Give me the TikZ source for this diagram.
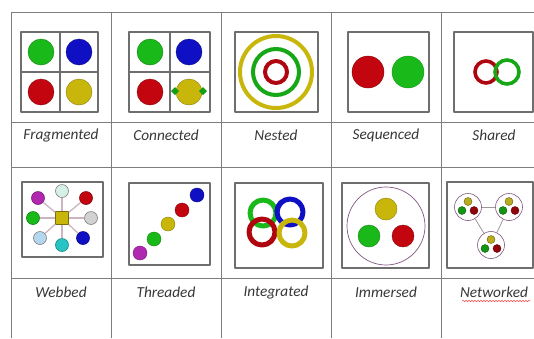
\documentclass[tikz,border=0pt]{standalone}
\usepackage{fontspec}
\setmainfont{Carlito}
\usetikzlibrary{decorations.pathmorphing}
\definecolor{cgreen}{RGB}{25,185,25}
\definecolor{cblue}{RGB}{15,15,195}
\definecolor{cred}{RGB}{195,5,15}
\definecolor{cyellow}{RGB}{200,182,10}
\definecolor{cmag}{RGB}{175,40,175}
\definecolor{cteal}{RGB}{40,195,195}
\definecolor{clblue}{RGB}{180,215,240}
\definecolor{clgray}{RGB}{210,210,210}
\definecolor{clcyan}{RGB}{215,240,230}
\definecolor{gridc}{RGB}{125,125,125}
\definecolor{boxc}{RGB}{110,110,110}
\definecolor{txtc}{RGB}{55,55,55}
\definecolor{spokec}{RGB}{205,180,195}
\tikzset{
  gridline/.style={draw=gridc, line width=0.9pt},
  boxline/.style={draw=boxc, line width=1.2pt},
  dot/.style={circle, inner sep=0pt, minimum size=#1, line width=0.6pt},
  lab/.style={font=\fontsize{15.3}{17}\selectfont\itshape, text=txtc, inner sep=0pt},
  spoke/.style={draw=spokec, line width=1.3pt},
  link/.style={draw=gray!80, line width=0.8pt},
}
\begin{document}
\begin{tikzpicture}[x=1pt,y=-1pt, line join=round]
\useasboundingbox (0,0) rectangle (534,338);
\fill[white] (0,0) rectangle (534,338);
% table grid
\foreach \yy in {12,122,167,278} \draw[gridline] (11,\yy) -- (534,\yy);
\foreach \xx in {11,111,221,331,441} \draw[gridline] (\xx,12) -- (\xx,338);

% ---------- Fragmented ----------
\draw[boxline] (21,32) rectangle (98,112);
\draw[boxline] (60,32) -- (60,112) (21,72) -- (98,72);
\filldraw[fill=cgreen, draw=cgreen!70!black] (41,52) circle (13);
\filldraw[fill=cblue, draw=cblue!70!black] (79,52) circle (13);
\filldraw[fill=cred, draw=cred!70!black] (41,92) circle (13);
\filldraw[fill=cyellow, draw=cyellow!70!black] (79,92) circle (13);

% ---------- Connected ----------
\draw[boxline] (129,32) rectangle (210,112);
\draw[boxline] (170,32) -- (170,112) (129,72) -- (210,72);
\filldraw[fill=cgreen, draw=cgreen!70!black] (150,52) circle (13);
\filldraw[fill=cblue, draw=cblue!70!black] (189,52) circle (13);
\filldraw[fill=cred, draw=cred!70!black] (150,92) circle (13);
\filldraw[fill=cyellow, draw=cyellow!70!black] (189,92) circle (13);
\fill[cgreen!85!black] (171,91) -- (175,87) -- (179,91) -- (175,95) -- cycle;
\fill[cgreen!85!black] (199,91) -- (203,87) -- (207,91) -- (203,95) -- cycle;

% ---------- Nested ----------
\draw[boxline] (235,32) rectangle (318,112);
\draw[cyellow, line width=4pt] (276,72) circle (36);
\draw[cgreen!90!black, line width=4pt] (276,72) circle (23);
\draw[cred!90!black, line width=4pt] (276,72) circle (11);

% ---------- Sequenced ----------
\draw[boxline] (348,32) rectangle (429,112);
\filldraw[fill=cred, draw=cred!70!black] (368,72) circle (16);
\filldraw[fill=cgreen, draw=cgreen!80!black] (408,72) circle (16);

% ---------- Shared ----------
\draw[boxline] (454,32) rectangle (533,112);
\draw[cred!90!black, line width=3.6pt] (486,72) circle (11);
\draw[cgreen!90!black, line width=3.6pt] (507,72) circle (12);

% ---------- Webbed ----------
\draw[boxline] (22,182) rectangle (103,257);
\node[draw=cyellow!60!black, fill=cyellow, minimum size=13pt, inner sep=0pt] (wc) at (62,218) {};
\node[dot=13pt, fill=cmag, draw=cmag!70!black] (w1) at (38,198) {};
\node[dot=13pt, fill=clcyan, draw=gray] (w2) at (62,191) {};
\node[dot=13pt, fill=cred, draw=cred!70!black] (w3) at (86,198) {};
\node[dot=13pt, fill=clgray, draw=gray] (w4) at (91,218) {};
\node[dot=13pt, fill=cblue, draw=cblue!70!black] (w5) at (83,238) {};
\node[dot=13pt, fill=cteal, draw=cteal!70!black] (w6) at (62,245) {};
\node[dot=13pt, fill=clblue, draw=gray] (w7) at (40,238) {};
\node[dot=13pt, fill=cgreen, draw=cgreen!70!black] (w8) at (33,218) {};
\foreach \i in {1,...,8} \draw[spoke] (wc) -- (w\i);

% ---------- Threaded ----------
\draw[boxline] (129,183) rectangle (210,265);
\filldraw[fill=cmag, draw=cmag!70!black] (140,253) circle (7);
\filldraw[fill=cgreen, draw=cgreen!70!black] (154,239) circle (7);
\filldraw[fill=cyellow, draw=cyellow!70!black] (168,224) circle (7);
\filldraw[fill=cred, draw=cred!70!black] (182,210) circle (7);
\filldraw[fill=cblue, draw=cblue!70!black] (197,195) circle (7);

% ---------- Integrated ----------
\draw[boxline] (235,183) rectangle (323,268);
\draw[cgreen, line width=5pt] (263,213) circle (13);
\draw[cblue, line width=5pt] (290,212) circle (13);
\draw[cred!90!black, line width=5pt] (262,232) circle (13);
\draw[cyellow, line width=5pt] (292,233) circle (13);
\draw[cblue, line width=5pt] (277,212) arc (180:235:13);

% ---------- Immersed ----------
\draw[boxline] (342,183) rectangle (429,268);
\draw[draw=gray!70!violet, line width=0.7pt] (386,226) circle (39);
\filldraw[fill=cyellow, draw=cyellow!70!black] (386,209) circle (11);
\filldraw[fill=cgreen, draw=cgreen!70!black] (369,236) circle (11);
\filldraw[fill=cred, draw=cred!70!black] (403,236) circle (11);

% ---------- Networked ----------
\draw[boxline] (447,182) rectangle (533,268);
\node[dot=27pt, draw=gray!70!violet, fill=white] (n1) at (468,207) {};
\node[dot=27pt, draw=gray!70!violet, fill=white] (n2) at (509,207) {};
\node[dot=27pt, draw=gray!70!violet, fill=white] (n3) at (491,245) {};
\draw[link] (n1) -- (n2);
\draw[link] (n1) -- (n3);
\draw[link] (n2) -- (n3);
\foreach \n/\cx/\cy in {n1/468/207, n2/509/207, n3/491/245}{
  \filldraw[fill=cyellow!80!gray, draw=cyellow!50!black, line width=0.4pt] (\cx,\cy-5.5) circle (4);
  \filldraw[fill=cgreen!80!black, draw=cgreen!50!black, line width=0.4pt] (\cx-6,\cy+3.5) circle (4);
  \filldraw[fill=cred!75!black, draw=cred!50!black, line width=0.4pt] (\cx+6,\cy+3.5) circle (4);
}

% ---------- Labels ----------
\node[lab] (l1) at (61,135) {Fragmented};
\node[lab] (l2) at (166,135) {Connected};
\node[lab] (l3) at (276,135) {Nested};
\node[lab] (l4) at (386,135) {Sequenced};
\node[lab] (l5) at (494,135) {Shared};
\node[lab] (l6) at (61,292) {Webbed};
\node[lab] (l7) at (166,292) {Threaded};
\node[lab] (l8) at (276,292) {Integrated};
\node[lab] (l9) at (386,292) {Immersed};
\node[lab] (l10) at (494,292) {Networked};
\draw[red!70, line width=0.5pt, decorate, decoration={snake, amplitude=0.7pt, segment length=3pt}] (462,301) -- (530,301);
\end{tikzpicture}
\end{document}
